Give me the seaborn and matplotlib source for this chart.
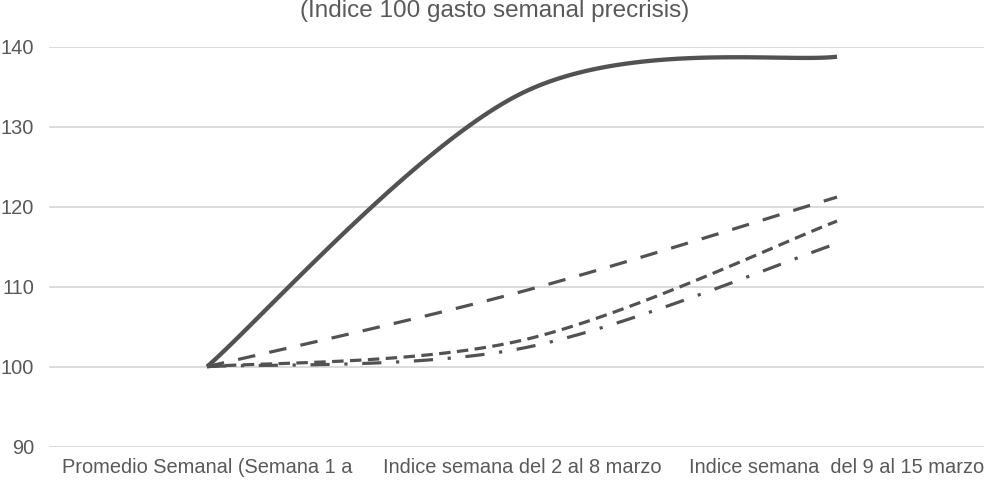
# Gasto semanal - índice 100 precrisis (líneas suavizadas estilo Excel)
import numpy as np
import pandas as pd
import matplotlib
matplotlib.use("Agg")
import matplotlib.pyplot as plt
import seaborn as sns

# --- datos ---------------------------------------------------------
categorias = [
    "Promedio Semanal (Semana 1 a",
    "Indice semana del 2 al 8 marzo",
    "Indice semana  del 9 al 15 marzo",
]
serie_a = [100, 134.2, 138.75]   # línea continua
serie_b = [100, 109.4, 121.2]    # guiones largos
serie_c = [100, 103.3, 118.2]    # guiones cortos
serie_d = [100, 102.3, 115.4]    # guion-punto
nombres = ["Serie A", "Serie B", "Serie C", "Serie D"]
y_ticks = [90, 100, 110, 120, 130, 140]
titulo = "(Indice 100 gasto semanal precrisis)"

# --- estilo --------------------------------------------------------
sns.set_style("white")
plt.rcParams["font.family"] = ["Liberation Sans", "DejaVu Sans"]

COLOR_LINEA = "#525252"
COLOR_TEXTO = "#595959"
COLOR_GRID = "#d9d9d9"


def suavizar(valores, n=60):
    """Curva Bezier tipo Excel que pasa por todos los puntos."""
    pts = np.column_stack([np.arange(len(valores)), valores]).astype(float)
    ext = np.vstack([pts[0], pts, pts[-1]])
    xs, ys = [], []
    t = np.linspace(0, 1, n)[:, None]
    for i in range(len(pts) - 1):
        p0, p3 = ext[i + 1], ext[i + 2]
        c1 = p0 + (ext[i + 2] - ext[i]) / 6
        c2 = p3 - (ext[i + 3] - ext[i + 1]) / 6
        b = ((1 - t) ** 3) * p0 + 3 * ((1 - t) ** 2) * t * c1 + 3 * (1 - t) * t ** 2 * c2 + t ** 3 * p3
        xs.append(b[:, 0])
        ys.append(b[:, 1])
    return np.concatenate(xs), np.concatenate(ys)


fig = plt.figure(figsize=(9.84, 4.8), dpi=100)
ax = fig.add_axes([0.0503, 0.0694, 0.9604, 0.8333])

estilos = [
    dict(linestyle="-", lw=3.1),
    dict(linestyle=(0, (5.5, 4.5)), lw=2.3),
    dict(linestyle=(0, (3.6, 2.0)), lw=2.3),
    dict(linestyle=(0, (6.0, 4.6, 1.0, 4.6)), lw=2.3),
]

for nombre, serie, est in zip(nombres, [serie_a, serie_b, serie_c, serie_d], estilos):
    xs, ys = suavizar(serie)
    df = pd.DataFrame({"x": xs, "y": ys})
    sns.lineplot(data=df, x="x", y="y", ax=ax, color=COLOR_LINEA, sort=False,
                 label=nombre, solid_capstyle="butt", dash_capstyle="butt", **est)

ax.get_legend().remove()

ax.set_xlim(-0.5, 2.5)
ax.set_ylim(90, 140)
ax.set_xticks(range(len(categorias)))
ax.set_xticklabels(categorias)
ax.set_yticks(y_ticks)
ax.set_xlabel("")
ax.set_ylabel("")
ax.grid(axis="y", color=COLOR_GRID, lw=1.3)
ax.grid(axis="x", visible=False)
ax.set_axisbelow(True)
for s in ax.spines.values():
    s.set_visible(False)
ax.tick_params(axis="both", length=0, labelsize=14.4, labelcolor=COLOR_TEXTO)
ax.tick_params(axis="y", pad=11)
ax.tick_params(axis="x", pad=8)

fig.text(0.503, 0.965, titulo, ha="center", va="baseline", fontsize=17.5, color=COLOR_TEXTO)

fig.savefig("out.png", dpi=100)
